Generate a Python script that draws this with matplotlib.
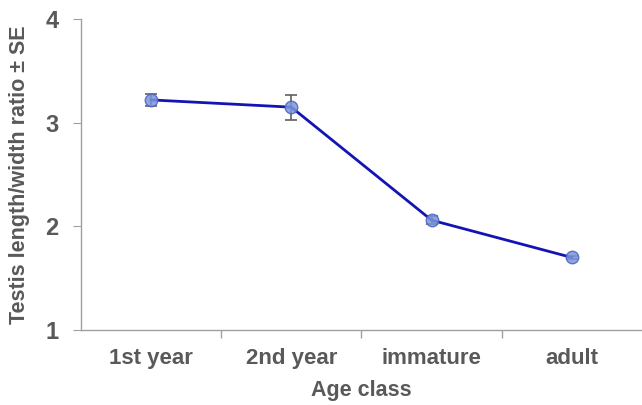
import matplotlib.pyplot as plt

plt.rcParams['font.family'] = ['Liberation Sans', 'DejaVu Sans']

age_classes = ['1st year', '2nd year', 'immature', 'adult']
ratio_mean = [3.22, 3.15, 2.06, 1.70]
ratio_se = [0.06, 0.12, 0.04, 0.015]

grey = '#595959'

fig = plt.figure(figsize=(6.42, 4.05), dpi=100)
ax = fig.add_axes([0.126, 0.185, 0.874, 0.768])

x = range(len(age_classes))
ax.errorbar(x, ratio_mean, yerr=ratio_se, fmt='none', ecolor='#606060',
            elinewidth=1.2, capsize=4, capthick=1.2, zorder=2)
ax.plot(x, ratio_mean, color='#1414b4', lw=2, zorder=3)
ax.plot(x, ratio_mean, 'o', ms=9, mfc='#7b96dc', mec='#4a64c0', mew=1,
        alpha=0.85, zorder=4)

ax.set_xlim(-0.5, 3.5)
ax.set_ylim(1, 4)
ax.set_yticks([1, 2, 3, 4])
ax.set_xticks(list(x))
ax.set_xticklabels(age_classes)
# separator ticks between categories
ax.set_xticks([0.5, 1.5, 2.5], minor=True)

for side in ['top', 'right']:
    ax.spines[side].set_visible(False)
for side in ['left', 'bottom']:
    ax.spines[side].set_color('#a0a0a0')
    ax.spines[side].set_linewidth(1)

ax.tick_params(axis='y', length=6, color='#a0a0a0', labelsize=17,
               labelcolor=grey, pad=10)
ax.tick_params(axis='x', which='major', length=0, labelsize=16,
               labelcolor=grey, pad=13)
ax.tick_params(axis='x', which='minor', length=6, color='#a0a0a0', width=1)
for lbl in ax.get_xticklabels() + ax.get_yticklabels():
    lbl.set_fontweight('bold')

ax.set_xlabel('Age class', fontsize=15.5, fontweight='bold', color=grey, labelpad=8)
ax.set_ylabel('Testis length/width ratio ± SE', fontsize=15.5, fontweight='bold',
              color=grey, labelpad=11)

fig.savefig('out.png', dpi=100)
